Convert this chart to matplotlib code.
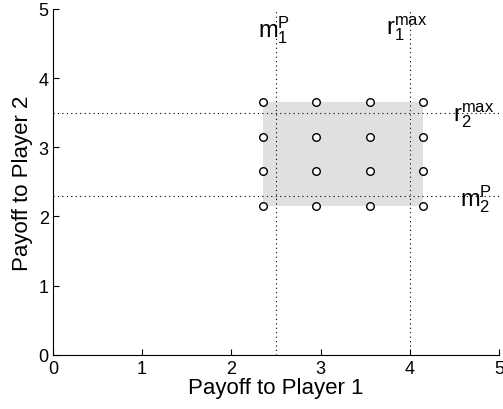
import matplotlib
matplotlib.use("Agg")
import matplotlib.pyplot as plt
from matplotlib.patches import Rectangle

plt.rcParams['font.family'] = ['Liberation Sans', 'DejaVu Sans']
plt.rcParams['mathtext.fontset'] = 'custom'
plt.rcParams['mathtext.rm'] = 'Liberation Sans'
plt.rcParams['mathtext.it'] = 'Liberation Sans'

# grid of payoff points
grid_x = [2.35, 2.95, 3.55, 4.15]
grid_y = [2.15, 2.65, 3.15, 3.65]

# reference lines
m1_p = 2.5
r1_max = 4.0
m2_p = 2.3
r2_max = 3.5

fig = plt.figure(figsize=(5.03, 4.10), dpi=100)
ax = fig.add_axes([0.105, 0.132, 0.887, 0.844])

ax.add_patch(Rectangle((min(grid_x), min(grid_y)), max(grid_x) - min(grid_x),
                       max(grid_y) - min(grid_y), color='#e0e0e0', lw=0, zorder=0))

for v in (m1_p, r1_max):
    ax.axvline(v, color='k', ls=(0, (1, 3)), lw=0.8, zorder=1)
for h in (m2_p, r2_max):
    ax.axhline(h, color='k', ls=(0, (1, 3)), lw=0.8, zorder=1)

xs = [x for x in grid_x for _ in grid_y]
ys = [y for _ in grid_x for y in grid_y]
ax.scatter(xs, ys, s=30, facecolors='white', edgecolors='k', linewidths=1.0, zorder=3)

lab = dict(fontsize=17, ha='center', va='center')
ax.text(m1_p - 0.02, 4.70, r'$\mathrm{m}_1^\mathrm{P}$', **lab)
ax.text(r1_max - 0.03, 4.73, r'$\mathrm{r}_1^\mathrm{max}$', **lab)
ax.text(4.72, r2_max - 0.03, r'$\mathrm{r}_2^\mathrm{max}$', **lab)
ax.text(4.74, m2_p - 0.03, r'$\mathrm{m}_2^\mathrm{P}$', **lab)

ax.set_xlim(0, 5)
ax.set_ylim(0, 5)
ax.set_xticks([0, 1, 2, 3, 4, 5])
ax.set_yticks([0, 1, 2, 3, 4, 5])
ax.spines['top'].set_visible(False)
ax.spines['right'].set_visible(False)
ax.tick_params(direction='in', length=4, labelsize=13)
ax.tick_params(axis='x', pad=4)
ax.tick_params(axis='y', pad=3)
ax.set_xlabel('Payoff to Player 1', fontsize=16, labelpad=0)
ax.set_ylabel('Payoff to Player 2', fontsize=16, labelpad=4)

fig.savefig('out.png', dpi=100)
